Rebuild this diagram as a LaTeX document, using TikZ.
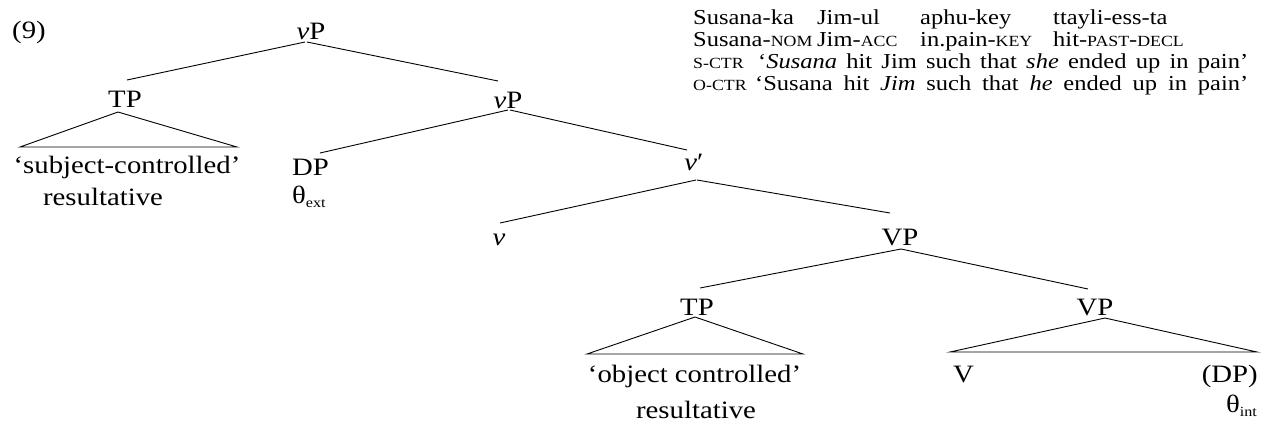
\documentclass[tikz,border=0pt]{standalone}
\usepackage{fontspec}
\setmainfont{Liberation Serif}[FakeStretch=1.15]
% lowered subscript for theta roles
\newcommand\lowsub[1]{\raisebox{-4pt}{\fontsize{14}{14}\selectfont #1}}
% faked small capitals for the glosses
\newcommand\gsc[1]{{\fontsize{15.5}{16}\selectfont #1}}
\begin{document}
\begin{tikzpicture}[x=1pt,y=-1pt,
  lab/.style={inner sep=0pt, anchor=base, font=\fontsize{25}{30}\selectfont},
  labw/.style={lab, anchor=base west},
  labe/.style={lab, anchor=base east},
  gl/.style={inner sep=0pt, anchor=base west, font=\fontsize{21.3}{22}\selectfont},
  branch/.style={line width=0.9pt, line join=miter}]
\useasboundingbox (0,0) rectangle (1263,421);

% example number
\node[labw] (num) at (12,38) {(9)};

% tree labels
\node[lab] (vPa) at (311,39) {\textit{v}P};
\node[lab] (TPa) at (125,107) {TP};
\node[lab] (sca) at (127,173) {`subject-controlled'};
\node[lab] (resa) at (103,205) {resultative};
\node[lab] (vPb) at (508,108) {\textit{v}P};
\node[labw] (DPa) at (292,175) {DP};
\node[labw] (thext) at (292,203) {θ\lowsub{ext}};
\node[lab] (vbar) at (694,170) {\textit{v}′};
\node[lab] (vh) at (499,245) {\textit{v}};
\node[lab] (VPa) at (900,245) {VP};
\node[lab] (TPb) at (697,315) {TP};
\node[lab] (oc) at (694.5,382) {`object controlled'};
\node[lab] (resb) at (696,418) {resultative};
\node[lab] (VPb) at (1095,315) {VP};
\node[labw] (Vh) at (953,382) {V};
\node[labe] (DPb) at (1258,382) {(DP)};
\node[labe] (thint) at (1257,412) {θ\lowsub{int}};

% branches
\draw[branch] ([xshift=-6pt,yshift=-3pt]vPa.base) -- ([xshift=2pt,yshift=27pt]TPa.base);
\draw[branch] ([xshift=-4pt,yshift=-3pt]vPa.base) -- ([xshift=-10pt,yshift=27pt]vPb.base);
\draw[branch] ([yshift=-2pt]vPb.base) -- ([xshift=28pt,yshift=22pt]DPa.base west);
\draw[branch] ([xshift=2pt,yshift=-2pt]vPb.base) -- ([xshift=-7pt,yshift=20pt]vbar.base);
\draw[branch] ([xshift=2pt,yshift=-10pt]vbar.base) -- ([xshift=1pt,yshift=22pt]vh.base);
\draw[branch] ([xshift=3pt,yshift=-10pt]vbar.base) -- ([xshift=-10pt,yshift=32pt]VPa.base);
\draw[branch] ([xshift=1pt,yshift=-4pt]VPa.base) -- ([xshift=3pt,yshift=27pt]TPb.base);
\draw[branch] ([xshift=1pt,yshift=-4pt]VPa.base) -- ([xshift=-7pt,yshift=26pt]VPb.base);

% triangles
\draw[branch] ([xshift=-107pt,yshift=26pt]sca.base) -- ([xshift=-7pt,yshift=-5pt]TPa.base)
  -- ([xshift=110pt,yshift=26pt]sca.base) -- cycle;
\draw[branch] ([xshift=-107.5pt,yshift=28pt]oc.base) -- ([xshift=-2pt,yshift=-2pt]TPb.base)
  -- ([xshift=108.5pt,yshift=28pt]oc.base) -- cycle;
\draw[branch] ([xshift=-3pt,yshift=30pt]Vh.base west) -- ([xshift=10pt,yshift=-3pt]VPb.base)
  -- ([xshift=-1pt,yshift=30pt]DPb.base east) -- cycle;

% example sentence, gloss and translations
\node[gl] (w1) at (693,24) {Susana-ka};
\node[gl] (w2) at (817,24) {Jim-ul};
\node[gl] (w3) at (920,24) {aphu-key};
\node[gl] (w4) at (1053,24) {ttayli-ess-ta};
\node[gl] (g1) at (693,46) {Susana-\gsc{NOM}};
\node[gl] (g2) at (817,46) {Jim-\gsc{ACC}};
\node[gl] (g3) at (920,46) {in.pain-\gsc{KEY}};
\node[gl] (g4) at (1053,46) {hit-\gsc{PAST}-\gsc{DECL}};
\node[gl] (s1) at (693,68) {\gsc{S-CTR}};
\node[gl] (t1) at (758,68) {\makebox[490pt][s]{`\textit{Susana} hit Jim such that \textit{she} ended up in pain'}};
\node[gl] (s2) at (693,90) {\gsc{O-CTR}};
\node[gl] (t2) at (755,90) {\makebox[493pt][s]{`Susana hit \textit{Jim} such that \textit{he} ended up in pain'}};
\end{tikzpicture}
\end{document}
